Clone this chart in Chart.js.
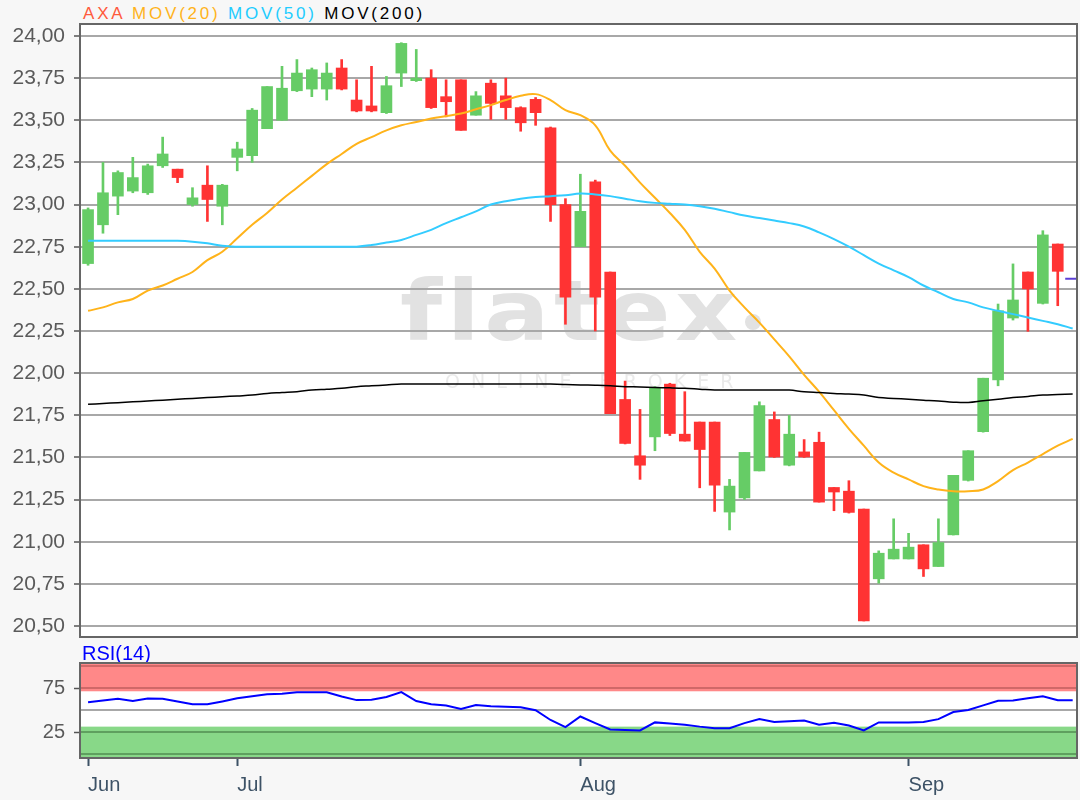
<!DOCTYPE html>
<html>
<head>
<meta charset="utf-8">
<script src="https://cdn.jsdelivr.net/npm/chart.js@4"></script>
<style>
  body { margin: 0; background: #f7f7f7; width: 1080px; height: 800px; overflow: hidden; position: relative; }
  #legend { position: absolute; left: 83px; top: 5px; font: 17px 'Liberation Sans', Arial, sans-serif; letter-spacing: 2.8px; white-space: nowrap; line-height: 17px; }
  #rsiLabel { position: absolute; left: 82px; top: 643px; font: 20px 'Liberation Sans', Arial, sans-serif; color: #0000ff; line-height: 20px; }
  #main { position: absolute; left: 0; top: 0; }
  #rsi { position: absolute; left: 0; top: 645px; }
</style>
</head>
<body>
<div id="legend"><span style="color:#ff5a3c">AXA</span> <span style="color:#ffb31a">MOV(20)</span> <span style="color:#22ccff">MOV(50)</span> <span style="color:#000">MOV(200)</span></div>
<canvas id="main" width="1080" height="645"></canvas>
<div id="rsiLabel">RSI(14)</div>
<canvas id="rsi" width="1080" height="155"></canvas>
<script>
// trading days shown
const dates = [
  '2019-06-17','2019-06-18','2019-06-19','2019-06-20','2019-06-21','2019-06-24','2019-06-25','2019-06-26','2019-06-27','2019-06-28',
  '2019-07-01','2019-07-02','2019-07-03','2019-07-04','2019-07-05','2019-07-08','2019-07-09','2019-07-10','2019-07-11','2019-07-12',
  '2019-07-15','2019-07-16','2019-07-17','2019-07-18','2019-07-19','2019-07-22','2019-07-23','2019-07-24','2019-07-25','2019-07-26',
  '2019-07-29','2019-07-30','2019-07-31',
  '2019-08-01','2019-08-02','2019-08-05','2019-08-06','2019-08-07','2019-08-08','2019-08-09','2019-08-12','2019-08-13','2019-08-14',
  '2019-08-15','2019-08-16','2019-08-19','2019-08-20','2019-08-21','2019-08-22','2019-08-23','2019-08-26','2019-08-27','2019-08-28',
  '2019-08-29','2019-08-30',
  '2019-09-02','2019-09-03','2019-09-04','2019-09-05','2019-09-06','2019-09-09','2019-09-10','2019-09-11','2019-09-12','2019-09-13',
  '2019-09-16'
];
const monthNames = ['Jan','Feb','Mar','Apr','May','Jun','Jul','Aug','Sep','Oct','Nov','Dec'];

const openP = [22.65,22.88,23.05,23.08,23.07,23.23,23.21,23.00,23.115,22.99,
  23.28,23.29,23.45,23.50,23.675,23.685,23.685,23.81,23.62,23.585,
  23.545,23.78,23.735,23.75,23.64,23.74,23.53,23.72,23.645,23.575,
  23.624,23.455,23.00,22.75,23.135,22.60,21.844,21.51,21.622,21.935,
  21.638,21.71,21.71,21.176,21.26,21.42,21.725,21.454,21.533,21.59,
  21.322,21.30,21.194,20.78,20.898,20.898,20.982,20.853,21.041,21.364,
  21.653,21.96,22.327,22.60,22.414,22.766];
const highP = [22.98,23.25,23.20,23.28,23.24,23.40,23.21,23.10,23.23,23.12,
  23.37,23.57,23.70,23.82,23.86,23.81,23.84,23.86,23.74,23.82,
  23.76,23.96,23.92,23.80,23.74,23.74,23.67,23.74,23.75,23.58,
  23.635,23.46,23.035,23.18,23.145,22.60,21.953,21.785,21.92,21.94,
  21.89,21.71,21.71,21.37,21.53,21.83,21.77,21.75,21.606,21.65,
  21.322,21.362,21.194,20.946,21.136,21.05,20.982,21.136,21.394,21.54,
  21.97,22.41,22.648,22.60,22.845,22.766];
const lowP = [22.64,22.83,22.94,23.07,23.06,23.22,23.13,22.99,22.90,22.88,
  23.20,23.25,23.45,23.50,23.67,23.64,23.62,23.68,23.55,23.55,
  23.54,23.70,23.73,23.57,23.52,23.44,23.53,23.505,23.505,23.435,
  23.47,22.90,22.29,22.75,22.25,21.76,21.58,21.37,21.54,21.63,
  21.597,21.32,21.18,21.07,21.25,21.42,21.50,21.45,21.50,21.235,
  21.184,21.17,20.53,20.754,20.898,20.898,20.794,20.853,21.04,21.36,
  21.65,21.925,22.315,22.248,22.41,22.40];
const closeP = [22.97,23.07,23.19,23.16,23.23,23.30,23.16,23.04,23.03,23.115,
  23.33,23.56,23.70,23.69,23.78,23.80,23.78,23.685,23.555,23.555,
  23.705,23.956,23.75,23.575,23.61,23.44,23.645,23.60,23.575,23.485,
  23.545,23.00,22.45,22.96,22.45,21.76,21.583,21.454,21.913,21.642,
  21.597,21.547,21.335,21.33,21.53,21.807,21.503,21.638,21.503,21.235,
  21.295,21.174,20.53,20.932,20.956,20.968,20.839,20.995,21.394,21.54,
  21.97,22.37,22.434,22.50,22.82,22.604];
const lastPrice = 22.56;

// moving averages (one point past the last candle)
const mov20 = [22.37,22.39,22.42,22.44,22.49,22.52,22.56,22.60,22.67,22.72,
  22.80,22.88,22.95,23.03,23.10,23.17,23.24,23.30,23.36,23.40,
  23.44,23.47,23.49,23.51,23.525,23.54,23.565,23.59,23.62,23.645,
  23.655,23.62,23.56,23.53,23.47,23.32,23.23,23.13,23.04,22.95,
  22.85,22.72,22.62,22.49,22.39,22.30,22.20,22.10,21.99,21.89,
  21.78,21.67,21.57,21.47,21.41,21.37,21.33,21.31,21.30,21.30,
  21.31,21.36,21.425,21.47,21.52,21.57,21.61];
const mov50 = [22.785,22.785,22.785,22.785,22.785,22.785,22.785,22.78,22.77,22.755,
  22.75,22.75,22.75,22.75,22.75,22.75,22.75,22.75,22.75,22.76,
  22.775,22.79,22.82,22.85,22.89,22.925,22.96,23.00,23.02,23.035,
  23.045,23.05,23.055,23.065,23.06,23.05,23.035,23.02,23.01,23.005,
  23.00,22.99,22.975,22.955,22.935,22.92,22.905,22.89,22.87,22.835,
  22.795,22.75,22.70,22.65,22.61,22.57,22.52,22.48,22.44,22.42,
  22.39,22.37,22.35,22.33,22.31,22.29,22.265];
const mov200 = [21.815,21.82,21.825,21.83,21.835,21.84,21.845,21.85,21.855,21.86,
  21.865,21.87,21.88,21.885,21.89,21.90,21.905,21.91,21.92,21.925,
  21.93,21.935,21.935,21.935,21.935,21.935,21.935,21.935,21.935,21.935,
  21.935,21.935,21.933,21.93,21.928,21.925,21.92,21.918,21.915,21.913,
  21.91,21.905,21.90,21.90,21.90,21.90,21.90,21.90,21.89,21.885,
  21.88,21.876,21.87,21.855,21.85,21.845,21.84,21.835,21.828,21.826,
  21.836,21.845,21.855,21.862,21.87,21.873,21.876];
const rsi14 = [59,61,62.9,60.6,63.2,63,60,56.8,56.8,60,
  63.5,66,68,68.8,70.5,70.5,70.3,65.5,61.5,61.8,
  65,70.5,60.5,56.8,55.5,51.4,56,54.6,54,53.3,
  50,39,31,43,35.5,28.3,27.6,27.2,36.3,35,
  33.6,31.5,29.8,29.8,35.5,40,36.7,37.5,38.3,33.6,
  35.9,32.8,27.2,36.3,36.3,36.3,36.8,40,48,50.3,
  55.5,60.8,61.2,63.5,65.9,61.3,61.3];

const priceTicks = [20.5,20.75,21.0,21.25,21.5,21.75,22.0,22.25,22.5,22.75,23.0,23.25,23.5,23.75,24.0];
const rsiTicks = [25, 75];
const rsiLevels = [0, 25, 75, 100];

const GREEN = '#66cc66', RED = '#ff3333';
const xMin = -0.54, xMax = dates.length + 0.29;
const FONT = "'Liberation Sans', Arial, sans-serif";

// first trading day of each month
const monthStarts = [];
dates.forEach((d, i) => {
  if (i === 0 || d.slice(5, 7) !== dates[i - 1].slice(5, 7)) monthStarts.push(i);
});

const candleColors = closeP.map((c, i) => c >= openP[i] ? GREEN : RED);
const bodies = openP.map((o, i) => ({ x: i, y: [o, closeP[i]] }));
const wicks = lowP.map((l, i) => ({ x: i, y: [l, highP[i]] }));
const toXY = arr => arr.map((v, i) => ({ x: i, y: v }));
const n = dates.length;

// keep the plot box where we put it (labels may hang over the edge)
const fixWidth = s => { s.width = 80; s.paddingTop = 0; s.paddingBottom = 0; };

const mainDecor = {
  id: 'mainDecor',
  beforeDraw(chart) {
    const { ctx, chartArea: a } = chart;
    ctx.save();
    ctx.fillStyle = '#fff';
    ctx.fillRect(a.left, a.top, a.right - a.left, a.bottom - a.top);
    // watermark
    ctx.save();
    ctx.translate(400, 340);
    ctx.scale(1.15, 1);
    ctx.fillStyle = '#e2e2e2';
    ctx.font = "bold 84px 'DejaVu Sans'";
    ctx.letterSpacing = '4px';
    ctx.textBaseline = 'alphabetic';
    ctx.fillText('flatex', 0, 0);
    ctx.restore();
    ctx.fillStyle = '#e2e2e2';
    ctx.beginPath();
    ctx.arc(753, 322, 8, 0, Math.PI * 2);
    ctx.fill();
    ctx.fillStyle = '#eaeaea';
    ctx.font = "19px 'DejaVu Sans'";
    ctx.letterSpacing = '11px';
    ctx.fillText('ONLINE BROKER', 445, 388);
    ctx.restore();
  },
  afterDraw(chart) {
    const { ctx, chartArea: a } = chart;
    ctx.save();
    ctx.strokeStyle = '#666';
    ctx.lineWidth = 2;
    ctx.strokeRect(a.left, a.top, a.right - a.left, a.bottom - a.top);
    ctx.restore();
  }
};

new Chart(document.getElementById('main'), {
  type: 'bar',
  data: {
    datasets: [
      { type: 'line', data: toXY(mov200), borderColor: '#000', borderWidth: 1.5, pointRadius: 0, tension: 0.4, order: 1 },
      { type: 'line', data: toXY(mov50), borderColor: '#33ccff', borderWidth: 2, pointRadius: 0, tension: 0.4, order: 1 },
      { type: 'line', data: toXY(mov20), borderColor: '#ffb31a', borderWidth: 2, pointRadius: 0, tension: 0.4, order: 1 },
      { type: 'line', data: [{ x: n - 0.5, y: lastPrice }, { x: n + 0.4, y: lastPrice }], borderColor: '#5b3fd6', borderWidth: 2, pointRadius: 0, order: 1 },
      { type: 'bar', data: wicks, backgroundColor: candleColors, barThickness: 2, grouped: false, order: 3 },
      { type: 'bar', data: bodies, backgroundColor: candleColors, barThickness: 11, grouped: false, order: 2 }
    ]
  },
  options: {
    responsive: false,
    animation: false,
    layout: { padding: { top: 24, right: 3, bottom: 8, left: 0 } },
    plugins: { legend: { display: false }, tooltip: { enabled: false } },
    scales: {
      x: { type: 'linear', display: false, min: xMin, max: xMax, offset: false, grid: { offset: false } },
      y: {
        type: 'linear', position: 'left', min: 20.435, max: 24.071,
        afterBuildTicks: s => { s.ticks = priceTicks.map(v => ({ value: v })); },
        afterFit: fixWidth,
        border: { display: false },
        grid: { color: '#a8a8a8', lineWidth: 2, tickColor: '#555', tickLength: 6, tickWidth: 1.5 },
        ticks: { color: '#5a5a5a', font: { family: FONT, size: 21 }, padding: 9,
          callback: v => v.toFixed(2).replace('.', ',') }
      }
    }
  },
  plugins: [mainDecor]
});

const rsiDecor = {
  id: 'rsiDecor',
  beforeDraw(chart) {
    const { ctx, chartArea: a, scales: { y } } = chart;
    ctx.save();
    ctx.fillStyle = '#fff';
    ctx.fillRect(a.left, a.top, a.right - a.left, a.bottom - a.top);
    const yTop = y.getPixelForValue(y.max), yBot = y.getPixelForValue(y.min);
    ctx.fillStyle = '#ff8888';
    ctx.fillRect(a.left, yTop, a.right - a.left, y.getPixelForValue(71.5) - yTop);
    ctx.fillStyle = '#88d888';
    const g = y.getPixelForValue(31.5);
    ctx.fillRect(a.left, g, a.right - a.left, yBot - g);
    ctx.lineWidth = 2;
    rsiLevels.forEach(v => {
      ctx.strokeStyle = v > 50 ? '#d06868' : '#5fa05f';
      const py = Math.round(y.getPixelForValue(v));
      ctx.beginPath(); ctx.moveTo(a.left, py); ctx.lineTo(a.right, py); ctx.stroke();
    });
    ctx.strokeStyle = '#a8a8a8';
    const p50 = Math.round(y.getPixelForValue(50));
    ctx.beginPath(); ctx.moveTo(a.left, p50); ctx.lineTo(a.right, p50); ctx.stroke();
    ctx.restore();
  },
  afterDraw(chart) {
    const { ctx, chartArea: a } = chart;
    ctx.save();
    ctx.strokeStyle = '#666';
    ctx.lineWidth = 2;
    ctx.strokeRect(a.left, a.top, a.right - a.left, a.bottom - a.top);
    ctx.restore();
  }
};

new Chart(document.getElementById('rsi'), {
  type: 'line',
  data: {
    datasets: [
      { data: toXY(rsi14), borderColor: '#0000ff', borderWidth: 2, pointRadius: 0, tension: 0 }
    ]
  },
  options: {
    responsive: false,
    animation: false,
    layout: { padding: { top: 18, right: 3, bottom: 0, left: 0 } },
    plugins: { legend: { display: false }, tooltip: { enabled: false } },
    scales: {
      x: {
        type: 'linear', min: xMin, max: xMax, offset: false,
        afterBuildTicks: s => { s.ticks = monthStarts.map(i => ({ value: i })); },
        afterFit: s => { s.height = 42; s.paddingLeft = 0; s.paddingRight = 0; },
        border: { display: false },
        grid: { drawOnChartArea: false, tickLength: 8, tickColor: '#3d5266', tickWidth: 2 },
        ticks: { color: '#3d5266', font: { family: FONT, size: 20 }, padding: 7, align: 'start',
          maxRotation: 0, autoSkip: false,
          callback: v => monthNames[parseInt(dates[Math.round(v)].slice(5, 7), 10) - 1] }
      },
      y: {
        type: 'linear', min: -4, max: 103.5,
        afterBuildTicks: s => { s.ticks = rsiTicks.map(v => ({ value: v })); },
        afterFit: fixWidth,
        border: { display: false },
        grid: { drawOnChartArea: false, tickColor: '#555', tickLength: 6, tickWidth: 1.5 },
        ticks: { color: '#5a5a5a', font: { family: FONT, size: 20 }, padding: 9 }
      }
    }
  },
  plugins: [rsiDecor]
});
</script>
</body>
</html>
